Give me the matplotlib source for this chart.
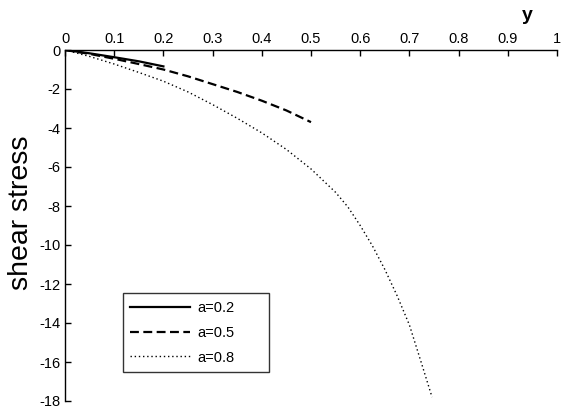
import matplotlib
matplotlib.use("Agg")
import matplotlib.pyplot as plt

plt.rcParams['font.family'] = ['Liberation Sans', 'DejaVu Sans']

y_02 = [0, 0.05, 0.1, 0.15, 0.2]
tau_02 = [0, -0.17, -0.37, -0.58, -0.84]

y_05 = [0, 0.05, 0.1, 0.15, 0.2, 0.25, 0.3, 0.35, 0.4, 0.45, 0.5]
tau_05 = [0, -0.2, -0.45, -0.72, -1.0, -1.35, -1.75, -2.15, -2.6, -3.1, -3.7]

y_08 = [0, 0.05, 0.1, 0.15, 0.2, 0.25, 0.3, 0.35, 0.4, 0.45, 0.5, 0.55,
        0.575, 0.6, 0.625, 0.65, 0.675, 0.7, 0.725, 0.746]
tau_08 = [0, -0.33, -0.72, -1.15, -1.6, -2.15, -2.8, -3.5, -4.25, -5.1,
          -6.1, -7.3, -8.05, -9.0, -10.05, -11.25, -12.6, -14.1, -16.1, -17.8]

labels = ['a=0.2', 'a=0.5', 'a=0.8']
xticks = [0, 0.1, 0.2, 0.3, 0.4, 0.5, 0.6, 0.7, 0.8, 0.9, 1]
yticks = [-18, -16, -14, -12, -10, -8, -6, -4, -2, 0]

fig = plt.figure(figsize=(5.68, 4.12), dpi=100)
ax = fig.add_axes([65 / 568, 1 - 401 / 412, 492 / 568, 351 / 412])

ax.plot(y_02, tau_02, color='black', lw=1.6, label=labels[0])
ax.plot(y_05, tau_05, color='black', lw=1.6, linestyle=(0, (4, 2)), label=labels[1])
ax.plot(y_08, tau_08, color='black', lw=1.0, linestyle=(0, (1, 2)), label=labels[2])

ax.set_xlim(0, 1)
ax.set_ylim(-18, 0)
ax.set_xticks(xticks)
ax.set_xticklabels([f'{v:g}' for v in xticks])
ax.set_yticks(yticks)
ax.set_yticklabels([f'{v:g}' for v in yticks])

# matlab-like look: axis on top, box off, ticks in
ax.xaxis.tick_top()
ax.spines['right'].set_visible(False)
ax.spines['bottom'].set_visible(False)
ax.spines['left'].set_linewidth(1.0)
ax.spines['top'].set_linewidth(1.0)
ax.tick_params(direction='in', length=4, width=1, labelsize=10.5, pad=3)

ax.set_ylabel('shear stress', fontsize=20.5)
ax.yaxis.set_label_coords(-0.064, 0.535)
fig.text(527 / 568, 1 - 16 / 412, 'y', fontsize=14, fontweight='bold',
         ha='center', va='center')

leg = ax.legend(loc='lower left', bbox_to_anchor=(0.118, 0.083, 0.297, 0.23),
                mode='expand', fontsize=10.5, frameon=True, fancybox=False,
                handlelength=4.1, handletextpad=0.5, labelspacing=0.75,
                borderpad=0.5, borderaxespad=0)
leg.get_frame().set_edgecolor('black')
leg.get_frame().set_linewidth(1.0)

fig.savefig('out.png', dpi=100)
